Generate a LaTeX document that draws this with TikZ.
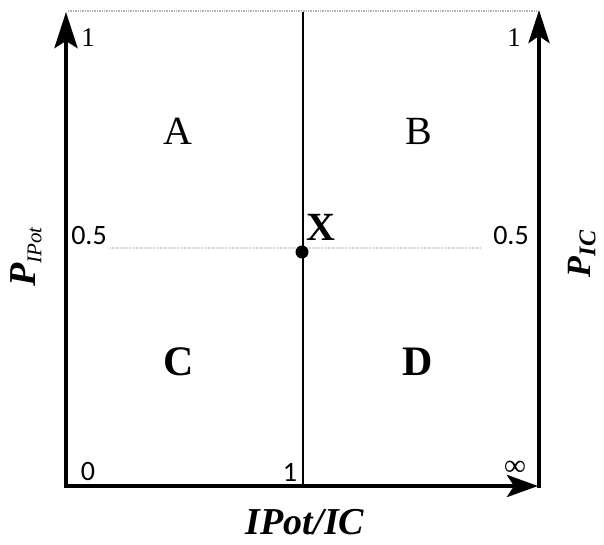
\documentclass[tikz,border=0pt]{standalone}
\usepackage{fontspec}
\setmainfont{Liberation Serif}
\newfontfamily\numfont{Carlito}
\usetikzlibrary{arrows.meta}
\tikzset{
  axis/.style={line width=4.5pt, line cap=butt},
  midline/.style={line width=2pt},
  guide/.style={gray!60, densely dotted, line width=1.4pt},
  region/.style={font=\fontsize{40}{40}\selectfont},
  regionb/.style={font=\fontsize{42}{42}\selectfont\bfseries},
  num/.style={font=\numfont\fontsize{28}{28}\selectfont},
  axlabel/.style={font=\fontsize{38}{38}\selectfont\bfseries\itshape},
}
\begin{document}
\begin{tikzpicture}[x=1pt,y=-1pt]
\useasboundingbox (0,0) rectangle (604,545);
% key coordinates
\coordinate (LB) at (66,488);
\coordinate (LT) at (66,12);
\coordinate (RB) at (539,488);
\coordinate (RT) at (539,10);
\coordinate (BL) at (64,486);
\coordinate (BR) at (538,486);
\coordinate (MT) at (303,12);
\coordinate (MB) at (303,486);
\coordinate (TL) at (68,11);
\coordinate (TR) at (537,11);
\coordinate (GL) at (110,248);
\coordinate (GR) at (480,248);
% guides
\draw[guide] (TL) -- (TR);
\draw[guide, gray!35] (GL) -- (GR);
% axes
\draw[axis, -{Stealth[length=36pt,width=23pt,inset=7pt]}] (LB) -- (LT);
\draw[axis, -{Stealth[length=33pt,width=21pt,inset=7pt]}] (RB) -- (RT);
\draw[axis, -{Stealth[length=31pt,width=22pt,inset=7pt]}] (BL) -- (BR);
\draw[midline] (MT) -- (MB);
% point X
\node[circle, fill=black, inner sep=0pt, minimum size=13pt] (dot) at (302,252) {};
\node[font=\fontsize{40}{40}\selectfont\bfseries, inner sep=0pt] (xl) at (321,227) {X};
% region labels
\node[region, inner sep=0pt] (A) at (178,131) {A};
\node[region, inner sep=0pt] (B) at (419,131) {B};
\node[regionb, inner sep=0pt] (C) at (179,362) {C};
\node[regionb, inner sep=0pt] (D) at (418,362) {D};
% tick labels
\node[font=\fontsize{27}{27}\selectfont, inner sep=0pt] (l1) at (88,38) {1};
\node[font=\fontsize{27}{27}\selectfont, inner sep=0pt] (r1) at (514,38) {1};
\node[num, inner sep=0pt] (l05) at (89,236) {0.5};
\node[num, inner sep=0pt] (r05) at (511,236) {0.5};
\node[num, inner sep=0pt] (b0) at (88,472) {0};
\node[num, inner sep=0pt] (b1) at (290,472) {1};
\node[font=\fontsize{30}{30}\selectfont\bfseries, inner sep=0pt] (inf) at (515,468) {∞};
% axis titles
\node[axlabel, rotate=90, inner sep=0pt] (py) at (26,257) {P\raisebox{-0.35ex}{\fontsize{21}{21}\selectfont\mdseries IPot}};
\node[axlabel, font=\fontsize{34}{34}\selectfont\bfseries\itshape, rotate=90, inner sep=0pt] (pic) at (582,254) {P\raisebox{-0.3ex}{\fontsize{24}{24}\selectfont IC}};
\node[axlabel, inner sep=0pt] (xt) at (305,522) {IPot/IC};
\end{tikzpicture}
\end{document}
